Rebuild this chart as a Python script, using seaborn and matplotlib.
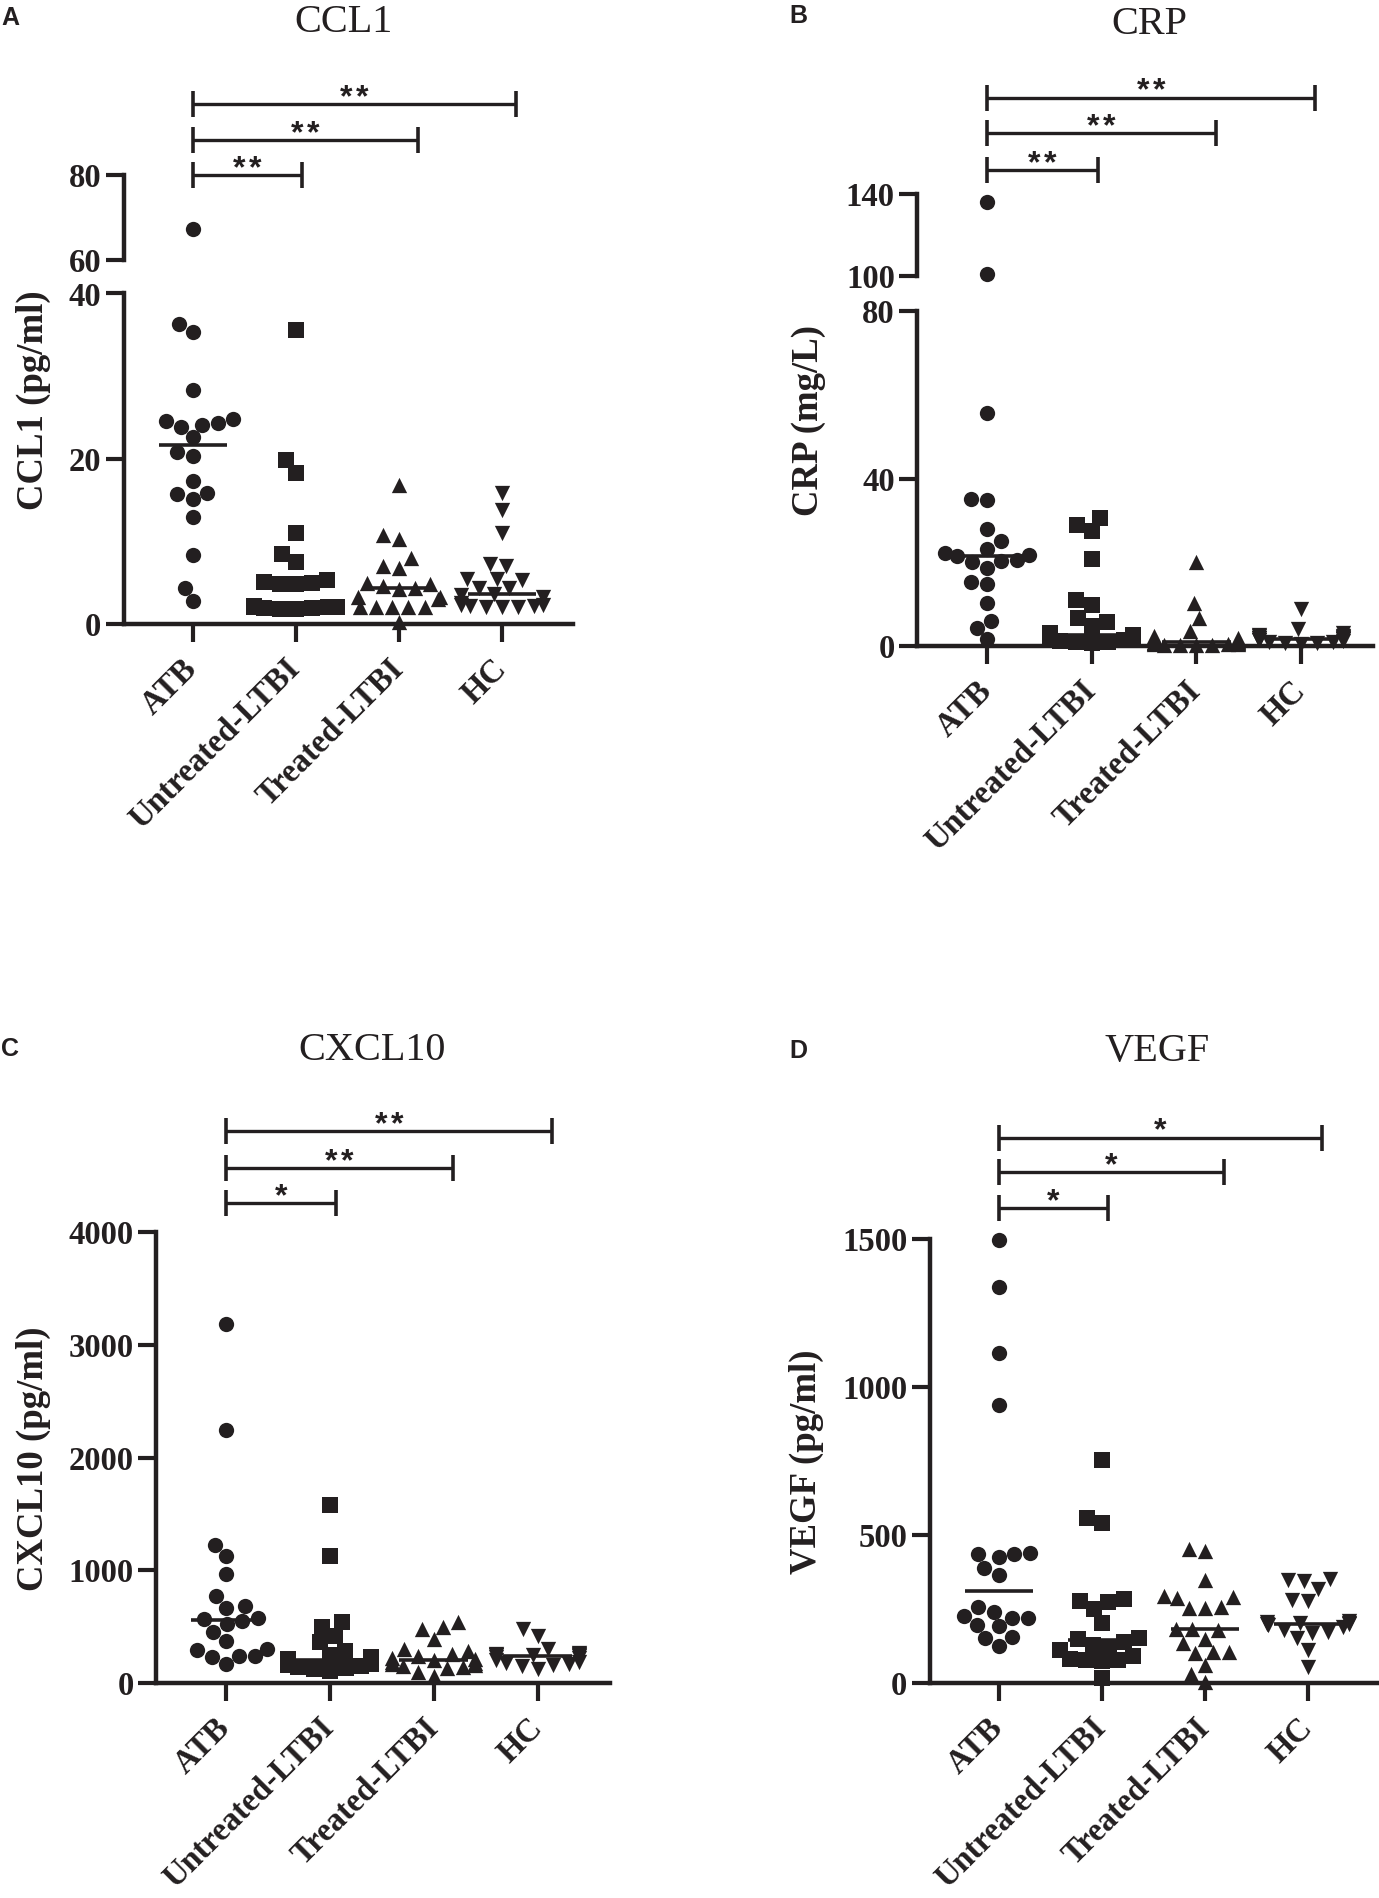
import warnings
import matplotlib
matplotlib.use("Agg")
import matplotlib.pyplot as plt
import seaborn as sns
import pandas as pd
import numpy as np

warnings.filterwarnings("ignore")

# Groups and markers shared by all four panels
groups = ['ATB', 'Untreated-LTBI', 'Treated-LTBI', 'HC']
markers = ['o', 's', '^', 'v']

# A. CCL1 (pg/ml)
ccl1_atb = [67.3, 36.3, 35.4, 28.3, 24.8, 24.6, 24.3, 24.1, 23.9, 22.6, 20.8, 20.3,
            17.3, 15.8, 15.7, 15.1, 13.0, 8.4, 4.4, 2.8]
ccl1_untreated = [35.6, 19.8, 18.3, 11.0, 8.5, 7.5, 5.3, 5.1, 5.0, 4.9, 4.8, 2.2,
                  2.1, 2.1, 2.0, 2.0, 2.0, 1.9, 1.9, 1.8, 1.8]
ccl1_treated = [16.8, 10.8, 10.3, 8.0, 7.0, 6.8, 5.0, 4.8, 4.6, 4.4, 4.2, 3.3, 3.3,
                3.0, 2.0, 2.0, 2.0, 2.0, 2.0, 0.3]
ccl1_hc = [15.8, 13.8, 11.0, 7.3, 7.0, 5.5, 5.5, 5.3, 4.3, 4.3, 3.6, 3.5, 3.3, 2.5,
           2.3, 2.3, 2.2, 2.2, 2.1, 2.0, 2.0]

# B. CRP (mg/L)
crp_atb = [136.4, 101.0, 55.8, 35.2, 34.8, 28.0, 25.1, 23.3, 22.2, 21.8, 21.5, 20.6,
           20.4, 20.2, 18.7, 15.2, 14.8, 10.2, 5.9, 4.4, 1.6]
crp_untreated = [30.6, 29.0, 27.5, 20.7, 10.9, 9.8, 6.7, 5.7, 4.7, 3.0, 2.6, 2.2, 2.0,
                 1.8, 1.6, 1.5, 1.4, 1.2, 1.0, 0.9, 0.8]
crp_treated = [20.2, 10.2, 6.7, 3.6, 2.5, 1.8, 1.4, 1.2, 1.0, 0.9, 0.8, 0.7, 0.6, 0.5,
               0.5, 0.4, 0.3, 0.3, 0.2, 0.2]
crp_hc = [8.8, 4.1, 3.0, 2.6, 2.5, 2.3, 2.2, 2.0, 1.9, 1.8, 1.7, 1.6, 1.5, 1.4, 1.2,
          1.0, 0.9, 0.8, 0.7, 0.5]

# C. CXCL10 (pg/ml)
cxcl10_atb = [3188, 2245, 1228, 1129, 970, 772, 680, 665, 580, 570, 546, 523, 455, 376,
              300, 295, 240, 236, 234, 166]
cxcl10_untreated = [1576, 1129, 540, 500, 420, 360, 280, 250, 230, 215, 205, 200, 190,
                    180, 170, 160, 150, 140, 130, 120, 110]
cxcl10_treated = [540, 500, 480, 390, 300, 280, 260, 240, 220, 210, 200, 190, 180, 170,
                  160, 150, 140, 130, 100, 60]
cxcl10_hc = [480, 420, 300, 270, 260, 255, 250, 248, 246, 244, 242, 230, 220, 200, 190,
             180, 170, 160, 150, 120]

# D. VEGF (pg/ml)
vegf_atb = [1495, 1337, 1116, 938, 440, 437, 434, 425, 389, 365, 256, 240, 226, 219,
            219, 196, 191, 154, 151, 124]
vegf_untreated = [754, 558, 540, 282, 276, 272, 249, 204, 151, 148, 140, 128, 121, 113,
                  90, 80, 78, 76, 75, 18]
vegf_treated = [452, 445, 347, 294, 290, 288, 256, 254, 252, 183, 181, 179, 150, 136,
                106, 104, 102, 60, 30, 2]
vegf_hc = [350, 347, 345, 317, 279, 276, 210, 206, 204, 201, 199, 198, 195, 190, 180,
           173, 170, 151, 113, 53]

INK = '#231f20'
SERIF = 'Liberation Serif'
SANS = 'Liberation Sans'

sns.set_theme(style="ticks")
plt.rcParams['font.family'] = SERIF

W, H = 1379, 1898
fig = plt.figure(figsize=(W / 100, H / 100), dpi=100)


def px_axes(left, right, bottom, top):
    # axes box given in pixel coordinates of the final image
    return fig.add_axes([left / W, 1 - bottom / H, (right - left) / W, (bottom - top) / H])


def table(*series):
    rows = [(g, v) for g, vals in zip(groups, series) for v in vals]
    return pd.DataFrame(rows, columns=['group', 'value'])


def dots(ax, df, lo, hi):
    part = df[(df['value'] >= lo) & (df['value'] <= hi)]
    for g, m in zip(groups, markers):
        sub = part[part['group'] == g]
        if sub.empty:
            continue
        sns.swarmplot(data=sub, x='group', y='value', order=groups, marker=m, size=11,
                      color=INK, linewidth=0, ax=ax, clip_on=False)
    ax.set_xlabel('')
    ax.set_ylabel('')


def medians(ax, df):
    for i, g in enumerate(groups):
        med = np.median(df.loc[df['group'] == g, 'value'])
        ax.hlines(med, i - 0.33, i + 0.33, color=INK, lw=2.6, zorder=5)


def style_y(ax, ticks, lim, bounds):
    ax.set_xlim(-0.67, 3.69)
    ax.set_ylim(*lim)
    ax.set_yticks(ticks)
    ax.set_yticklabels([str(t) for t in ticks], fontsize=23.5, fontweight='bold',
                       color=INK, family=SERIF)
    ax.tick_params(axis='y', length=13, width=3, color=INK, pad=3)
    for s in ['top', 'right']:
        ax.spines[s].set_visible(False)
    ax.spines['left'].set_linewidth(3.2)
    ax.spines['left'].set_color(INK)
    ax.spines['left'].set_bounds(*bounds)


def style_x(ax):
    ax.set_xticks(range(len(groups)))
    ax.set_xticklabels(groups, rotation=45, ha='right', va='center',
                       rotation_mode='anchor', fontsize=23.5, fontweight='bold',
                       color=INK, family=SERIF)
    ax.tick_params(axis='x', length=13, width=3, color=INK, pad=16)
    ax.spines['bottom'].set_linewidth(3.2)
    ax.spines['bottom'].set_color(INK)


def hide_x(ax):
    ax.spines['bottom'].set_visible(False)
    ax.tick_params(axis='x', bottom=False, labelbottom=False)


def brackets(ax, levels, stars):
    for right, y, n in zip([1.06, 2.19, 3.14], levels, stars):
        ax.plot([0, right], [y, y], color=INK, lw=2.4, marker='|', ms=19, mew=2.6,
                clip_on=False, solid_capstyle='butt')
        for k in range(n):
            ax.annotate('*', (right / 2, y), xytext=((k - (n - 1) / 2) * 11.5, -1.5),
                        textcoords='offset points', ha='center', va='baseline',
                        fontsize=23, fontweight='bold', family=SANS, color=INK,
                        annotation_clip=False)


def labels(letter, lx, ly, title, tx, ty, ylabel, yx, yy):
    fig.text(lx / W, 1 - ly / H, letter, fontsize=18, fontweight='bold', family=SANS,
             color=INK, ha='left', va='center')
    fig.text(tx / W, 1 - ty / H, title, fontsize=29, family=SERIF, color=INK,
             ha='center', va='center')
    fig.text(yx / W, 1 - yy / H, ylabel, fontsize=26.5, fontweight='bold', family=SERIF,
             color=INK, rotation=90, ha='center', va='center')


# Panel A: CCL1 with broken axis
ccl1 = table(ccl1_atb, ccl1_untreated, ccl1_treated, ccl1_hc)
a_low = px_axes(123.5, 573, 624, 293.5)
a_high = px_axes(123.5, 573, 260, 69.65)
dots(a_low, ccl1, -1, 50)
dots(a_high, ccl1, 50, 200)
medians(a_low, ccl1)
style_y(a_low, [0, 20, 40], (0, 40), (0, 40))
style_x(a_low)
style_y(a_high, [60, 80], (60, 105), (60, 80))
hide_x(a_high)
brackets(a_high, [80, 88.4, 96.8], [2, 2, 2])
labels('A', 1, 18, 'CCL1', 343, 23, 'CCL1 (pg/ml)', 33, 400)

# Panel B: CRP with broken axis
crp = table(crp_atb, crp_untreated, crp_treated, crp_hc)
b_low = px_axes(917, 1373, 646, 311.4)
b_high = px_axes(917, 1373, 276.2, 71.45)
dots(b_low, crp, -1, 90)
dots(b_high, crp, 90, 300)
medians(b_low, crp)
style_y(b_low, [0, 40, 80], (0, 80), (0, 80))
style_x(b_low)
style_y(b_high, [100, 140], (100, 200), (100, 140))
hide_x(b_high)
brackets(b_high, [151.9, 169.7, 187.2], [2, 2, 2])
labels('B', 789, 16, 'CRP', 1149, 24, 'CRP (mg/L)', 808.6, 420)

# Panel C: CXCL10
cxcl10 = table(cxcl10_atb, cxcl10_untreated, cxcl10_treated, cxcl10_hc)
c_ax = px_axes(156, 609.5, 1683, 1096.8)
dots(c_ax, cxcl10, -1, 10000)
medians(c_ax, cxcl10)
style_y(c_ax, [0, 1000, 2000, 3000, 4000], (0, 5200), (0, 4000))
style_x(c_ax)
brackets(c_ax, [4257, 4570, 4896], [1, 2, 2])
labels('C', 1, 1049, 'CXCL10', 372, 1051, 'CXCL10 (pg/ml)', 33, 1458.7)

# Panel D: VEGF
vegf = table(vegf_atb, vegf_untreated, vegf_treated, vegf_hc)
d_ax = px_axes(929.5, 1379, 1683, 1105.6)
dots(d_ax, vegf, -1, 10000)
medians(d_ax, vegf)
style_y(d_ax, [0, 500, 1000, 1500], (0, 1950), (0, 1500))
style_x(d_ax)
brackets(d_ax, [1605, 1726, 1842], [1, 1, 1])
labels('D', 789, 1051, 'VEGF', 1157, 1051, 'VEGF (pg/ml)', 806, 1462)

fig.savefig('out.png', dpi=100, facecolor='white')
